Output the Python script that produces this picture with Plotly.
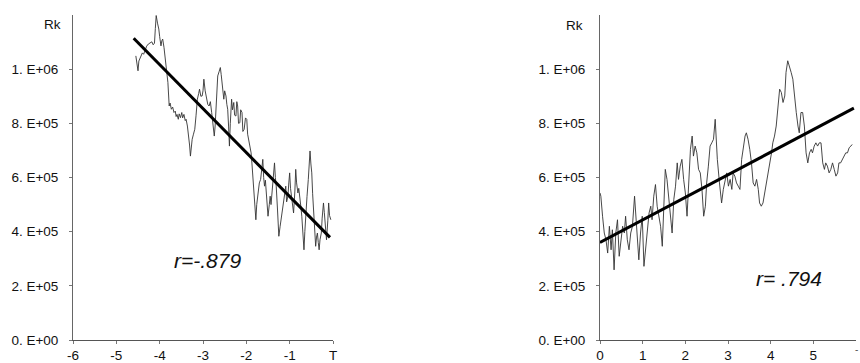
import plotly.graph_objects as go

# ---------------- data (Rk in units of 1e5) ----------------
t_left = [-4.55, -4.52, -4.50, -4.48, -4.45, -4.40, -4.37, -4.33, -4.30, -4.26, -4.22, -4.18, -4.15, -4.12,
          -4.10, -4.08, -4.05, -4.02, -4.00, -3.97, -3.95, -3.93, -3.90, -3.87, -3.84, -3.81, -3.78, -3.76,
          -3.73, -3.70, -3.67, -3.64, -3.62, -3.60, -3.57, -3.55, -3.52, -3.49, -3.47, -3.44, -3.41, -3.39,
          -3.36, -3.34, -3.31, -3.29, -3.27, -3.25, -3.22, -3.19, -3.16, -3.13, -3.10, -3.08, -3.05, -3.02,
          -3.00, -2.98, -2.95, -2.92, -2.89, -2.86, -2.83, -2.80, -2.77, -2.74, -2.72, -2.71, -2.68, -2.66,
          -2.63, -2.60, -2.58, -2.57, -2.55, -2.52, -2.50, -2.47, -2.45, -2.43, -2.41, -2.39, -2.37, -2.34,
          -2.32, -2.29, -2.27, -2.24, -2.22, -2.20, -2.18, -2.15, -2.13, -2.10, -2.08, -2.05, -2.02, -1.99,
          -1.97, -1.95, -1.92, -1.89, -1.87, -1.85, -1.83, -1.81, -1.78, -1.76, -1.73, -1.70, -1.67, -1.65,
          -1.62, -1.60, -1.58, -1.56, -1.54, -1.52, -1.50, -1.47, -1.45, -1.43, -1.40, -1.37, -1.35, -1.33,
          -1.31, -1.28, -1.25, -1.22, -1.19, -1.17, -1.14, -1.11, -1.09, -1.07, -1.04, -1.02, -1.00, -0.98,
          -0.95, -0.93, -0.91, -0.88, -0.86, -0.84, -0.81, -0.79, -0.77, -0.74, -0.72, -0.70, -0.67, -0.65,
          -0.63, -0.60, -0.57, -0.55, -0.53, -0.51, -0.49, -0.47, -0.44, -0.42, -0.40, -0.38, -0.36, -0.34,
          -0.32, -0.30, -0.27, -0.25, -0.22, -0.20, -0.19, -0.17, -0.15, -0.12, -0.10, -0.08, -0.05]
rk_left = [10.49, 10.2, 9.94, 10.3, 10.43, 10.6, 10.55, 10.74, 10.85, 10.93, 10.98, 11.01, 10.9, 10.96,
           11.5, 11.98, 11.7, 11.48, 11.2, 10.86, 11.05, 11.11, 10.8, 10.37, 10.0, 9.51, 8.64, 8.75,
           8.52, 8.6, 8.40, 8.45, 8.25, 8.33, 8.15, 8.35, 8.21, 8.4, 8.2, 8.33, 8.1, 8.15,
           7.9, 7.65, 7.2, 6.79, 7.1, 7.41, 7.6, 7.78, 8.3, 8.89, 9.1, 9.26, 9.0, 9.01,
           9.2, 9.63, 9.2, 8.89, 8.7, 8.64, 8.8, 8.40, 8.0, 7.53, 7.9, 8.27, 9.0, 9.75,
           9.9, 10.06, 9.8, 9.63, 9.2, 8.89, 9.2, 9.01, 8.7, 8.52, 7.9, 7.16, 8.0, 8.89,
           8.5, 8.77, 8.3, 8.27, 8.8, 8.64, 8.0, 8.02, 8.5, 8.40, 7.7, 7.78, 8.2, 8.15,
           7.6, 7.41, 7.2, 6.91, 6.5, 6.05, 5.4, 4.81, 4.44, 5.0, 5.56, 5.8, 5.93, 6.3,
           6.67, 6.0, 5.68, 5.9, 5.43, 5.0, 4.57, 5.0, 5.31, 5.0, 5.68, 6.1, 6.54, 6.0,
           5.68, 4.8, 3.83, 4.2, 4.57, 4.9, 5.19, 5.5, 5.68, 5.1, 5.31, 5.8, 6.17, 5.6,
           5.19, 5.0, 4.69, 5.5, 6.30, 5.8, 5.43, 5.6, 5.19, 4.9, 4.57, 3.9, 3.33, 4.0,
           4.69, 5.3, 5.93, 6.5, 6.98, 6.5, 6.17, 5.4, 4.69, 4.0, 3.46, 3.8, 3.95, 3.6,
           3.33, 3.7, 3.95, 4.5, 5.06, 4.7, 4.44, 4.0, 3.70, 4.4, 5.06, 4.6, 4.44]

t_right = [0.00, 0.02, 0.06, 0.10, 0.14, 0.18, 0.22, 0.26, 0.29, 0.33, 0.37, 0.41, 0.45, 0.49, 0.53,
           0.57, 0.60, 0.64, 0.68, 0.72, 0.76, 0.81, 0.86, 0.91, 0.95, 0.99, 1.03, 1.07, 1.11, 1.15,
           1.19, 1.22, 1.26, 1.30, 1.34, 1.38, 1.42, 1.46, 1.50, 1.53, 1.57, 1.61, 1.65, 1.69, 1.73,
           1.77, 1.81, 1.84, 1.88, 1.92, 1.96, 2.00, 2.04, 2.08, 2.12, 2.16, 2.19, 2.23, 2.27, 2.31,
           2.35, 2.39, 2.43, 2.47, 2.50, 2.54, 2.58, 2.62, 2.66, 2.70, 2.72, 2.75, 2.80, 2.85, 2.89,
           2.93, 2.97, 3.01, 3.05, 3.09, 3.12, 3.16, 3.20, 3.24, 3.28, 3.32, 3.36, 3.40, 3.43, 3.47,
           3.51, 3.55, 3.59, 3.63, 3.67, 3.71, 3.74, 3.78, 3.82, 3.86, 3.90, 3.94, 3.98, 4.02, 4.05,
           4.09, 4.13, 4.17, 4.21, 4.25, 4.29, 4.33, 4.36, 4.40, 4.44, 4.48, 4.52, 4.56, 4.60, 4.64,
           4.67, 4.71, 4.75, 4.79, 4.83, 4.87, 4.91, 4.95, 4.98, 5.02, 5.06, 5.10, 5.14, 5.18, 5.22,
           5.26, 5.29, 5.33, 5.37, 5.41, 5.45, 5.49, 5.53, 5.57, 5.60, 5.64, 5.68, 5.72, 5.76, 5.80,
           5.84, 5.88, 5.91]
rk_right = [5.43, 5.31, 4.57, 3.95, 3.70, 3.21, 4.20, 3.33, 4.07, 2.59, 3.95, 4.44, 3.09, 3.70, 4.20,
            3.95, 4.57, 3.70, 3.33, 3.95, 4.20, 5.31, 4.07, 2.96, 3.95, 4.57, 2.72, 3.46, 4.20, 4.69,
            4.94, 4.44, 5.31, 5.74, 4.94, 4.57, 4.20, 3.46, 4.94, 6.30, 5.93, 5.19, 4.57, 3.95, 5.19,
            5.68, 6.54, 5.93, 6.42, 6.67, 5.93, 5.43, 4.57, 5.68, 7.04, 7.53, 6.79, 7.16, 6.91, 6.30,
            6.17, 5.56, 4.57, 4.94, 5.80, 6.42, 7.16, 7.28, 7.41, 8.15, 7.53, 6.67, 5.80, 5.06, 5.56,
            5.93, 6.17, 5.68, 5.93, 5.56, 6.17, 6.05, 5.80, 5.68, 5.56, 6.67, 7.16, 7.53, 7.65, 7.41,
            7.04, 6.54, 5.80, 5.68, 5.93, 5.56, 5.06, 4.94, 5.06, 5.43, 5.80, 6.17, 6.42, 6.91, 7.28,
            7.53, 7.90, 8.52, 9.26, 9.14, 8.77, 9.01, 9.88, 10.31, 10.12, 9.88, 9.63, 8.89, 8.40, 7.90,
            7.65, 8.40, 8.40, 7.90, 6.91, 6.54, 6.91, 7.04, 6.91, 7.16, 7.28, 7.16, 7.28, 7.28, 6.54,
            6.30, 6.54, 6.42, 6.17, 6.30, 6.54, 6.30, 6.05, 6.17, 6.54, 6.54, 6.67, 6.79, 6.91, 6.91,
            7.10, 7.16, 7.22]

fit_left_t = [-4.60, -0.07]
fit_left_rk = [11.14, 3.79]
fit_right_t = [0.0, 5.95]
fit_right_rk = [3.60, 8.56]

scale = 1e5
x_left_ticks = [-6, -5, -4, -3, -2, -1, 0]
x_left_labels = ["-6", "-5", "-4", "-3", "-2", "-1", "T"]
x_right_ticks = [0, 1, 2, 3, 4, 5]
x_right_labels = ["0", "1", "2", "3", "4", "5"]
y_ticks = [0, 2e5, 4e5, 6e5, 8e5, 1e6]
y_labels = ["0. E+00", "2. E+05", "4. E+05", "6. E+05", "8. E+05", "1. E+06"]

FONT = "Liberation Sans, Arial, Helvetica, sans-serif"
W, H = 860, 363
FS = 13.5

fig = go.Figure()
fig.add_trace(go.Scatter(x=t_left, y=[v * scale for v in rk_left], mode="lines",
                         line=dict(color="#333333", width=0.9), xaxis="x", yaxis="y"))
fig.add_trace(go.Scatter(x=fit_left_t, y=[v * scale for v in fit_left_rk], mode="lines",
                         line=dict(color="#000000", width=3), xaxis="x", yaxis="y"))
fig.add_trace(go.Scatter(x=t_right, y=[v * scale for v in rk_right], mode="lines",
                         line=dict(color="#333333", width=0.9), xaxis="x2", yaxis="y2"))
fig.add_trace(go.Scatter(x=fit_right_t, y=[v * scale for v in fit_right_rk], mode="lines",
                         line=dict(color="#000000", width=3), xaxis="x2", yaxis="y2"))

ydom = [(H - 340) / H, (H - 15) / H]
common_x = dict(showgrid=False, zeroline=False, showline=True, linecolor="#555", linewidth=1,
                ticks="outside", ticklen=3, tickcolor="#777", automargin=False,
                tickfont=dict(family=FONT, size=FS, color="#111"), fixedrange=True)
common_y = dict(showgrid=False, zeroline=False, showline=True, linecolor="#666", linewidth=1,
                ticks="outside", ticklen=3, tickcolor="#777", range=[0, 1.2e6], automargin=False,
                tickvals=y_ticks, ticktext=y_labels, ticklabelstandoff=8,
                tickfont=dict(family=FONT, size=FS, color="#111"), domain=ydom, fixedrange=True)

fig.update_layout(
    width=W, height=H, margin=dict(l=0, r=0, t=0, b=0, pad=0, autoexpand=False),
    paper_bgcolor="white", plot_bgcolor="white", showlegend=False,
    xaxis=dict(common_x, domain=[73 / W, 333 / W], range=[-6, 0], tickvals=x_left_ticks,
               ticktext=x_left_labels, anchor="y"),
    yaxis=dict(common_y, anchor="x"),
    xaxis2=dict(common_x, domain=[600 / W, 856 / W], range=[0, 6], tickvals=x_right_ticks,
                ticktext=x_right_labels, anchor="y2"),
    yaxis2=dict(common_y, anchor="x2"),
    annotations=[
        dict(text="Rk", x=52 / W, y=1 - 24 / H, xref="paper", yref="paper", showarrow=False,
             xanchor="center", yanchor="middle", font=dict(family=FONT, size=FS, color="#111")),
        dict(text="Rk", x=574 / W, y=1 - 25 / H, xref="paper", yref="paper", showarrow=False,
             xanchor="center", yanchor="middle", font=dict(family=FONT, size=FS, color="#111")),
        dict(text="<i>r=-.879</i>", x=207 / W, y=1 - 260 / H, xref="paper", yref="paper",
             showarrow=False, xanchor="center", yanchor="middle",
             font=dict(family=FONT, size=21, color="#111")),
        dict(text="<i>r= .794</i>", x=789 / W, y=1 - 278 / H, xref="paper", yref="paper",
             showarrow=False, xanchor="center", yanchor="middle",
             font=dict(family=FONT, size=21, color="#111")),
        dict(text="-", x=856 / W, y=1 - 349 / H, xref="paper", yref="paper", showarrow=False,
             xanchor="center", yanchor="middle", font=dict(family=FONT, size=10, color="#555")),
    ],
)

fig.write_html("out.html", config={"displayModeBar": False},
               post_script="document.body.style.margin='0px';document.body.style.overflow='hidden';")
